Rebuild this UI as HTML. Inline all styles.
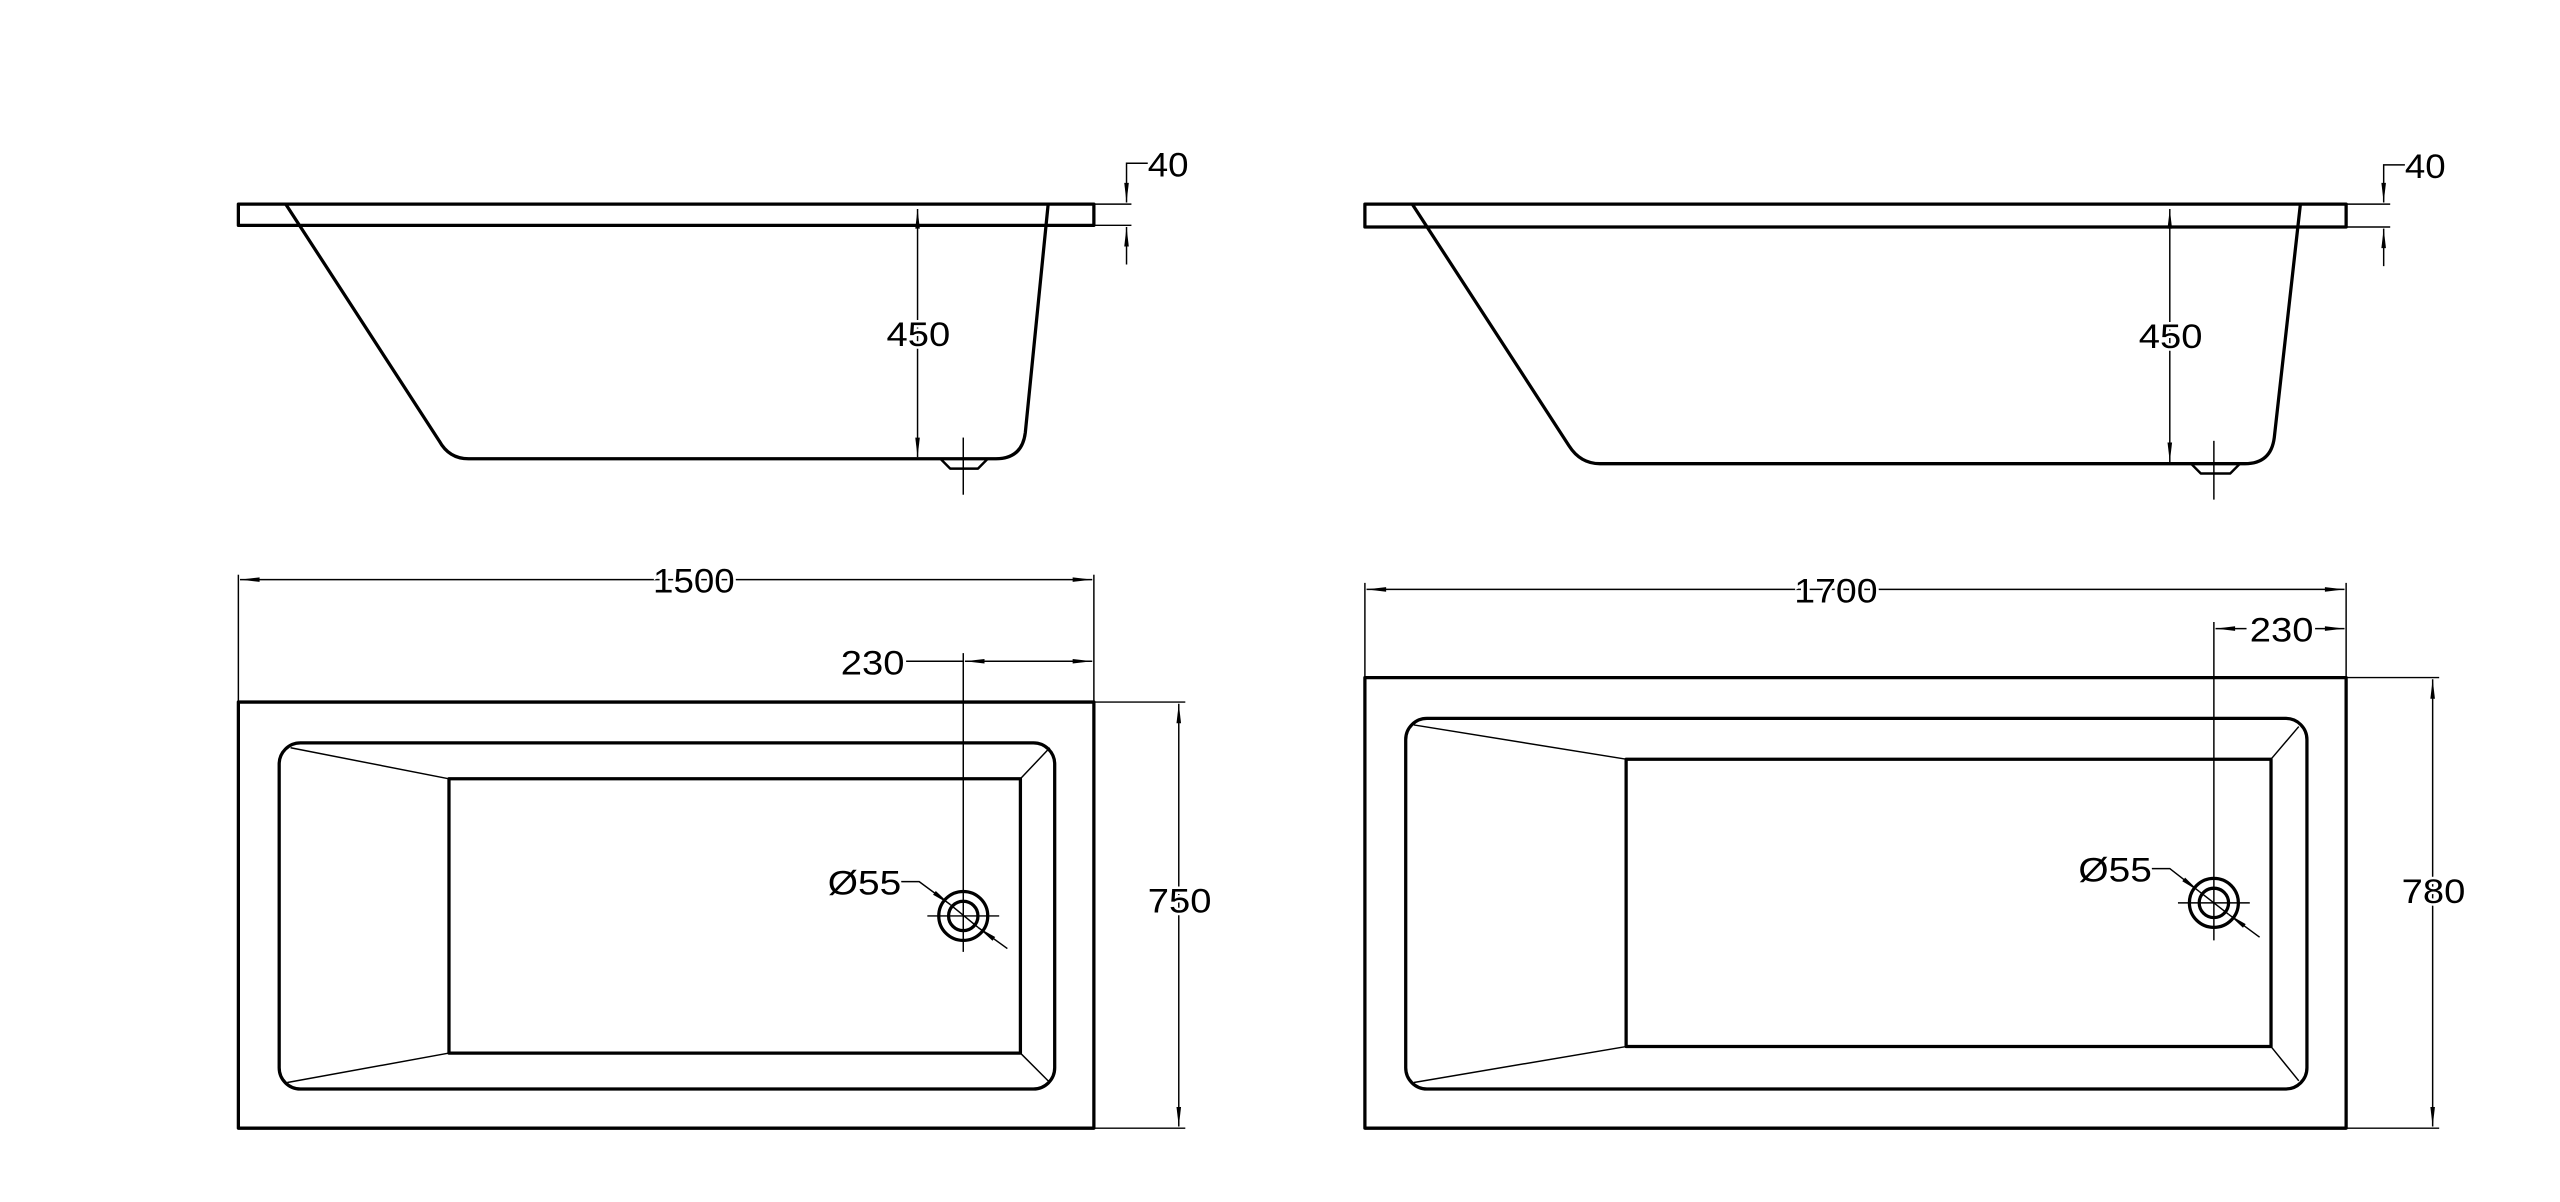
<!DOCTYPE html>
<html><head><meta charset="utf-8"><style>html,body{margin:0;padding:0;background:#fff}svg{display:block}</style></head>
<body>
<svg width="2560" height="1202" viewBox="0 0 1568 736.2" xmlns="http://www.w3.org/2000/svg">
<defs>
<marker id="a" markerUnits="userSpaceOnUse" markerWidth="14" markerHeight="6" refX="12" refY="3" orient="auto-start-reverse" viewBox="0 0 12 6"><path d="M0,1.6 L12,3 L0,4.4 Z" fill="#000"/></marker>
</defs>
<rect width="1568" height="737" fill="#fff"/>
<g fill="none" stroke="#000" stroke-width="2" stroke-linejoin="round">
<rect x="146" y="125" width="524" height="13"/>
<path d="M175,125 L269,270 Q275,281 287,281 L610,281 Q626,281 628,265 L642,125"/>
<path d="M576,281 L582,287 L599,287 L605,281" stroke-width="1.5"/>
<rect x="836" y="125" width="601" height="14"/>
<path d="M865,125 L961,273 Q968,284 980,284 L1375,284 Q1391,284 1393,268 L1409,125"/>
<path d="M1342,284 L1348,290 L1366,290 L1372,284" stroke-width="1.5"/>
<rect x="146" y="430" width="524" height="261"/>
<rect x="171" y="455" width="475" height="212" rx="13"/>
<rect x="275" y="477" width="350" height="168"/>
<circle cx="590" cy="561" r="15"/>
<circle cx="590" cy="561" r="9"/>
<rect x="836" y="415" width="601" height="276"/>
<rect x="861" y="440" width="552" height="227" rx="13"/>
<rect x="996" y="465" width="395" height="176"/>
<circle cx="1356" cy="553" r="15"/>
<circle cx="1356" cy="553" r="9"/>
</g>
<g fill="none" stroke="#000" stroke-width="0.9">
<line x1="562" y1="128" x2="562" y2="280" marker-start="url(#a)" marker-end="url(#a)"/>
<line x1="590" y1="268" x2="590" y2="303"/>
<line x1="670" y1="125" x2="693" y2="125"/><line x1="670" y1="138" x2="693" y2="138"/>
<polyline points="703,100 690,100 690,124" marker-end="url(#a)"/>
<line x1="690" y1="162" x2="690" y2="139" marker-end="url(#a)"/>
<line x1="1329" y1="128" x2="1329" y2="283" marker-start="url(#a)" marker-end="url(#a)"/>
<line x1="1356" y1="270" x2="1356" y2="306"/>
<line x1="1437" y1="125" x2="1464" y2="125"/><line x1="1437" y1="139" x2="1464" y2="139"/>
<polyline points="1473,101 1460,101 1460,124" marker-end="url(#a)"/>
<line x1="1460" y1="163" x2="1460" y2="140" marker-end="url(#a)"/>
<line x1="178" y1="458" x2="275" y2="477"/><line x1="176" y1="663" x2="275" y2="645"/>
<line x1="625" y1="477" x2="643" y2="458"/><line x1="625" y1="645" x2="643" y2="663"/>
<line x1="146" y1="352" x2="146" y2="430"/><line x1="670" y1="352" x2="670" y2="430"/>
<line x1="147" y1="355" x2="669" y2="355" marker-start="url(#a)" marker-end="url(#a)"/>
<line x1="590" y1="400" x2="590" y2="583"/>
<line x1="555" y1="405" x2="590" y2="405"/>
<line x1="591" y1="405" x2="669" y2="405" marker-start="url(#a)" marker-end="url(#a)"/>
<line x1="568" y1="561" x2="612" y2="561"/>
<polyline points="552,540 563,540 582,554" marker-end="url(#a)"/>
<line x1="617" y1="581" x2="599" y2="568" marker-end="url(#a)"/>
<line x1="582" y1="554" x2="599" y2="568"/>
<line x1="670" y1="430" x2="726" y2="430"/><line x1="670" y1="691" x2="726" y2="691"/>
<line x1="722" y1="431" x2="722" y2="690" marker-start="url(#a)" marker-end="url(#a)"/>
<line x1="866" y1="444" x2="996" y2="465"/><line x1="866" y1="663" x2="996" y2="641"/>
<line x1="1391" y1="465" x2="1408" y2="445"/><line x1="1391" y1="641" x2="1408" y2="662"/>
<line x1="836" y1="357" x2="836" y2="415"/><line x1="1437" y1="357" x2="1437" y2="415"/>
<line x1="837" y1="361" x2="1436" y2="361" marker-start="url(#a)" marker-end="url(#a)"/>
<line x1="1356" y1="381" x2="1356" y2="576"/>
<line x1="1357" y1="385" x2="1376" y2="385" marker-start="url(#a)"/>
<line x1="1418" y1="385" x2="1436" y2="385" marker-end="url(#a)"/>
<line x1="1334" y1="553" x2="1378" y2="553"/>
<polyline points="1318,532 1329,532 1347,546" marker-end="url(#a)"/>
<line x1="1384" y1="574" x2="1365" y2="560" marker-end="url(#a)"/>
<line x1="1347" y1="546" x2="1365" y2="560"/>
<line x1="1437" y1="415" x2="1494" y2="415"/><line x1="1437" y1="691" x2="1494" y2="691"/>
<line x1="1490" y1="416" x2="1490" y2="690" marker-start="url(#a)" marker-end="url(#a)"/>
</g>
<g font-family="Liberation Sans, sans-serif" font-size="21" fill="#000" stroke="#fff" stroke-width="3" paint-order="stroke" lengthAdjust="spacingAndGlyphs">
<text x="543" y="212" textLength="39" lengthAdjust="spacingAndGlyphs">450</text>
<text x="703" y="108" textLength="25" lengthAdjust="spacingAndGlyphs">40</text>
<text x="1310" y="213" textLength="39" lengthAdjust="spacingAndGlyphs">450</text>
<text x="1473" y="109" textLength="25" lengthAdjust="spacingAndGlyphs">40</text>
<text x="400" y="363" textLength="50" lengthAdjust="spacingAndGlyphs">1500</text>
<text x="515" y="413" textLength="39" lengthAdjust="spacingAndGlyphs">230</text>
<text x="507" y="548" textLength="45" lengthAdjust="spacingAndGlyphs">Ø55</text>
<text x="703" y="559" textLength="39" lengthAdjust="spacingAndGlyphs">750</text>
<text x="1099" y="369" textLength="51" lengthAdjust="spacingAndGlyphs">1700</text>
<text x="1378" y="393" textLength="39" lengthAdjust="spacingAndGlyphs">230</text>
<text x="1273" y="540" textLength="45" lengthAdjust="spacingAndGlyphs">Ø55</text>
<text x="1471" y="553" textLength="39" lengthAdjust="spacingAndGlyphs">780</text>
</g>
</svg>
</body></html>
